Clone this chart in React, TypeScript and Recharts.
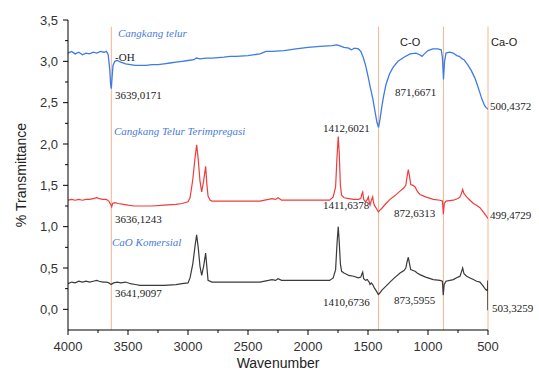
import { LineChart, Line, XAxis, YAxis, ReferenceLine, ReferenceDot } from "recharts";

// Cangkang telur (blue)
const shellWn = [
  4000, 3970, 3940, 3910, 3880, 3850, 3820, 3790, 3760, 3730, 3700, 3680, 3665, 3652, 3645, 3639, 3633, 3625,
  3610, 3590, 3560, 3520, 3480, 3440, 3400, 3350, 3300, 3250, 3200, 3150, 3100, 3050, 3000, 2950, 2930, 2900,
  2850, 2800, 2700, 2650, 2600, 2500, 2400, 2350, 2300, 2200, 2100, 2000, 1900, 1800, 1760, 1740, 1700, 1660,
  1640, 1610, 1580, 1560, 1540, 1520, 1500, 1480, 1460, 1440, 1425, 1412, 1400, 1385, 1370, 1350, 1320, 1290,
  1250, 1200, 1150, 1100, 1070, 1050, 1030, 1000, 960, 920, 890, 880, 871, 862, 850, 820, 790, 760, 740, 715,
  700, 670, 640, 610, 590, 570, 550, 530, 515, 500,
];
const shellT = [
  3.1, 3.12, 3.09, 3.11, 3.08, 3.1, 3.09, 3.11, 3.1, 3.12, 3.11, 3.12, 3.08, 2.9, 2.72, 2.67, 2.8, 2.95,
  3.0, 3.01, 2.99, 2.97, 2.96, 2.95, 2.95, 2.95, 2.96, 2.96, 2.97, 2.98, 2.99, 3.0, 3.01, 3.02, 3.04, 3.03,
  3.04, 3.04, 3.05, 3.06, 3.06, 3.07, 3.09, 3.12, 3.12, 3.13, 3.15, 3.17, 3.18, 3.19, 3.2, 3.19, 3.17, 3.16,
  3.14, 3.16, 3.15, 3.12, 3.05, 2.95, 2.82, 2.68, 2.55, 2.38, 2.26, 2.2, 2.3, 2.45, 2.58, 2.72, 2.85, 2.93,
  3.0, 3.05, 3.09, 3.1, 3.08, 3.06, 3.09, 3.13, 3.15, 3.15, 3.14, 3.05, 2.78, 3.0, 3.1, 3.11, 3.1, 3.07, 3.06, 3.03,
  3.02, 2.96, 2.89, 2.8, 2.72, 2.63, 2.54, 2.47, 2.44, 2.42,
];

// Cangkang Telur Terimpregasi (red)
const impregWn = [
  4000, 3970, 3940, 3910, 3880, 3850, 3820, 3790, 3760, 3740, 3710, 3680, 3660, 3645, 3636, 3628, 3610, 3580,
  3540, 3500, 3450, 3400, 3300, 3200, 3100, 3050, 3000, 2983, 2960, 2940, 2928, 2915, 2900, 2886, 2870, 2853,
  2842, 2833, 2815, 2800, 2700, 2600, 2500, 2400, 2330, 2300, 2270, 2250, 2220, 2100, 2000, 1900, 1820, 1790,
  1770, 1758, 1748, 1740, 1730, 1720, 1700, 1660, 1620, 1580, 1560, 1550, 1544, 1536, 1520, 1505, 1497, 1490,
  1483, 1472, 1461, 1455, 1447, 1430, 1414, 1400, 1386, 1350, 1317, 1280, 1233, 1200, 1185, 1175, 1164, 1155,
  1144, 1125, 1108, 1090, 1067, 1020, 956, 900, 880, 872, 864, 850, 789, 750, 733, 722, 711, 700,
  678, 650, 622, 595, 567, 540, 520, 500,
];
const impregT = [
  1.32, 1.33, 1.32, 1.33, 1.32, 1.33, 1.33, 1.34, 1.35, 1.34, 1.33, 1.33, 1.31, 1.27, 1.24, 1.28, 1.29, 1.28,
  1.27, 1.26, 1.25, 1.25, 1.25, 1.26, 1.27, 1.28, 1.3, 1.35, 1.57, 1.85, 1.99, 1.82, 1.55, 1.42, 1.55, 1.73,
  1.5, 1.37, 1.32, 1.31, 1.31, 1.31, 1.31, 1.31, 1.33, 1.34, 1.33, 1.35, 1.32, 1.32, 1.32, 1.32, 1.32, 1.36,
  1.48, 1.85, 2.09, 1.9, 1.5, 1.38, 1.35, 1.34, 1.33, 1.33, 1.34, 1.4, 1.42, 1.33, 1.3, 1.33, 1.36, 1.3,
  1.26, 1.32, 1.36, 1.3, 1.26, 1.22, 1.18, 1.2, 1.22, 1.28, 1.33, 1.37, 1.43, 1.47, 1.5, 1.6, 1.69, 1.62,
  1.51, 1.5, 1.48, 1.43, 1.39, 1.36, 1.33, 1.32, 1.31, 1.15, 1.28, 1.31, 1.32, 1.34, 1.36, 1.4, 1.45, 1.4,
  1.36, 1.32, 1.28, 1.26, 1.23, 1.18, 1.14, 1.1,
];

// CaO Komersial (black)
const caoWn = [
  4000, 3970, 3940, 3910, 3880, 3850, 3820, 3790, 3760, 3740, 3710, 3680, 3660, 3641, 3620, 3590, 3560, 3520,
  3480, 3440, 3400, 3300, 3200, 3100, 3050, 3000, 2983, 2960, 2940, 2928, 2915, 2900, 2886, 2870, 2853, 2842,
  2833, 2800, 2700, 2600, 2500, 2400, 2330, 2300, 2270, 2250, 2220, 2100, 2000, 1900, 1820, 1790, 1770, 1758,
  1748, 1740, 1730, 1720, 1700, 1660, 1620, 1580, 1560, 1550, 1544, 1536, 1520, 1505, 1497, 1490, 1483, 1472,
  1461, 1447, 1430, 1414, 1400, 1386, 1350, 1317, 1280, 1233, 1200, 1185, 1175, 1164, 1155, 1144, 1125, 1108,
  1090, 1067, 1020, 956, 900, 880, 873, 865, 850, 789, 750, 733, 722, 711, 700, 678, 650, 622,
  595, 567, 540, 520, 510, 504, 502, 501, 500,
];
const caoT = [
  0.31, 0.33, 0.32, 0.34, 0.33, 0.34, 0.33, 0.34, 0.35, 0.34, 0.33, 0.33, 0.32, 0.3, 0.32, 0.33, 0.32, 0.33,
  0.31, 0.3, 0.29, 0.29, 0.29, 0.3, 0.31, 0.32, 0.38, 0.55, 0.78, 0.9, 0.75, 0.52, 0.41, 0.52, 0.68, 0.5,
  0.35, 0.33, 0.33, 0.33, 0.33, 0.33, 0.35, 0.36, 0.35, 0.37, 0.35, 0.35, 0.35, 0.35, 0.35, 0.38, 0.48, 0.8,
  1.0, 0.82, 0.55, 0.46, 0.44, 0.41, 0.4, 0.38, 0.39, 0.43, 0.45, 0.37, 0.35, 0.36, 0.34, 0.33, 0.3, 0.32,
  0.3, 0.26, 0.22, 0.18, 0.2, 0.23, 0.28, 0.33, 0.38, 0.44, 0.47, 0.5, 0.57, 0.63, 0.56, 0.48, 0.47, 0.46,
  0.44, 0.42, 0.39, 0.36, 0.35, 0.34, 0.17, 0.3, 0.34, 0.36, 0.39, 0.4, 0.45, 0.5, 0.43, 0.4, 0.38, 0.36,
  0.34, 0.33, 0.28, 0.24, 0.23, 0.25, 0.35, -0.01, 0.08,
];

const xTicks = [4000, 3750, 3500, 3250, 3000, 2750, 2500, 2250, 2000, 1750, 1500, 1250, 1000, 750, 500];
const yTicks = [0, 0.25, 0.5, 0.75, 1, 1.25, 1.5, 1.75, 2, 2.25, 2.5, 2.75, 3, 3.25, 3.5];
const bandLines = [3639, 1412, 871, 500];

// text notes: [text, wavenumber, transmittance, kind]
const notes: [string, number, number, string][] = [
  ["Cangkang telur", 3583, 3.3, "name"],
  ["-OH", 3608, 3.01, "serif"],
  ["3639,0171", 3608, 2.55, "serif"],
  ["Cangkang Telur Terimpregasi", 3617, 2.11, "name"],
  ["1412,6021", 1875, 2.15, "serif"],
  ["C-O", 1233, 3.18, "sans"],
  ["Ca-O", 475, 3.18, "sans"],
  ["871,6671", 1275, 2.58, "serif"],
  ["500,4372", 483, 2.41, "serif"],
  ["3636,1243", 3608, 1.045, "serif"],
  ["CaO Komersial", 3633, 0.765, "name"],
  ["3641,9097", 3608, 0.146, "serif"],
  ["1411,6378", 1875, 1.215, "serif"],
  ["872,6313", 1283, 1.118, "serif"],
  ["499,4729", 483, 1.094, "serif"],
  ["1410,6736", 1875, 0.036, "serif"],
  ["873,5955", 1283, 0.06, "serif"],
  ["503,3259", 467, -0.036, "serif"],
];

const zip = (wn: number[], t: number[]) => wn.map((w, i) => ({ wn: w, t: t[i] }));
const shellData = zip(shellWn, shellT);
const impregData = zip(impregWn, impregT);
const caoData = zip(caoWn, caoT);

const SANS = "'Liberation Sans', Arial, sans-serif";
const SERIF = "'Liberation Serif', 'Times New Roman', serif";

function XTick({ x, y, payload }: any) {
  const major = payload.value % 500 === 0;
  return (
    <g>
      <line x1={x} y1={y} x2={x} y2={y + (major ? 5 : 3)} stroke="#000" />
      {major && (
        <text x={x} y={y + 21} textAnchor="middle" fontSize={13} fill="#333" fontFamily={SANS}>
          {payload.value}
        </text>
      )}
    </g>
  );
}

function YTick({ x, y, payload }: any) {
  const v = payload.value;
  const major = Math.abs(v * 2 - Math.round(v * 2)) < 1e-6;
  return (
    <g>
      <line x1={x} y1={y} x2={x - (major ? 5 : 3)} y2={y} stroke="#000" />
      {major && (
        <text x={x - 10} y={y + 4.5} textAnchor="end" fontSize={13} fill="#333" fontFamily={SANS}>
          {v.toFixed(1).replace(".", ",")}
        </text>
      )}
    </g>
  );
}

function noteLabel(text: string, kind: string) {
  return (p: any) => {
    const vb = p.viewBox;
    if (kind === "name") {
      return (
        <text x={vb.x} y={vb.y} fontSize={11} fontStyle="italic" fill="#4a7bd8" fontFamily={SERIF}>
          {text}
        </text>
      );
    }
    return (
      <text x={vb.x} y={vb.y} fontSize={11} fill="#222" fontFamily={kind === "sans" ? SANS : SERIF}>
        {text}
      </text>
    );
  };
}

export default function App() {
  return (
    <div style={{ width: 539, height: 376 }}>
      <style>{"body{margin:0}"}</style>
      <LineChart
        width={539}
        height={376}
        margin={{ top: 20, right: 51, left: 16, bottom: 6 }}
        style={{ overflow: "visible" }}
      >
        <XAxis
          dataKey="wn"
          type="number"
          domain={[500, 4000]}
          reversed
          ticks={xTicks}
          interval={0}
          tickSize={0}
          tickMargin={0}
          tick={<XTick />}
          tickLine={false}
          axisLine={{ stroke: "#000" }}
          height={40}
          allowDataOverflow
          label={(p: any) => (
            <text
              x={p.viewBox.x + p.viewBox.width / 2}
              y={368}
              textAnchor="middle"
              fontSize={14}
              fill="#222"
              fontFamily={SANS}
            >
              Wavenumber
            </text>
          )}
        />
        <YAxis
          type="number"
          domain={[-0.25, 3.5]}
          ticks={yTicks}
          interval={0}
          tickSize={0}
          tickMargin={0}
          tick={<YTick />}
          tickLine={false}
          axisLine={{ stroke: "#000" }}
          width={52}
          allowDataOverflow
          label={(p: any) => {
            const cy = p.viewBox.y + p.viewBox.height / 2;
            return (
              <text
                x={26}
                y={cy}
                transform={`rotate(-90, 26, ${cy})`}
                textAnchor="middle"
                fontSize={14}
                fill="#222"
                fontFamily={SANS}
              >
                % Transmittance
              </text>
            );
          }}
        />
        {bandLines.map((w) => (
          <ReferenceLine
            key={w}
            segment={[
              { x: w, y: -0.25 },
              { x: w, y: 3.42 },
            ]}
            stroke="#f8b592"
            strokeWidth={1}
          />
        ))}
        <Line data={shellData} dataKey="t" type="linear" stroke="#3d7be6" strokeWidth={1.3} dot={false} isAnimationActive={false} />
        <Line data={impregData} dataKey="t" type="linear" stroke="#f03c3c" strokeWidth={1.2} dot={false} isAnimationActive={false} />
        <Line data={caoData} dataKey="t" type="linear" stroke="#3a3a3a" strokeWidth={1.2} dot={false} isAnimationActive={false} />
        {notes.map(([text, wn, t, kind]) => (
          <ReferenceDot
            key={text}
            x={wn}
            y={t}
            r={0}
            fill="none"
            stroke="none"
            ifOverflow="visible"
            label={noteLabel(text, kind)}
          />
        ))}
      </LineChart>
    </div>
  );
}
